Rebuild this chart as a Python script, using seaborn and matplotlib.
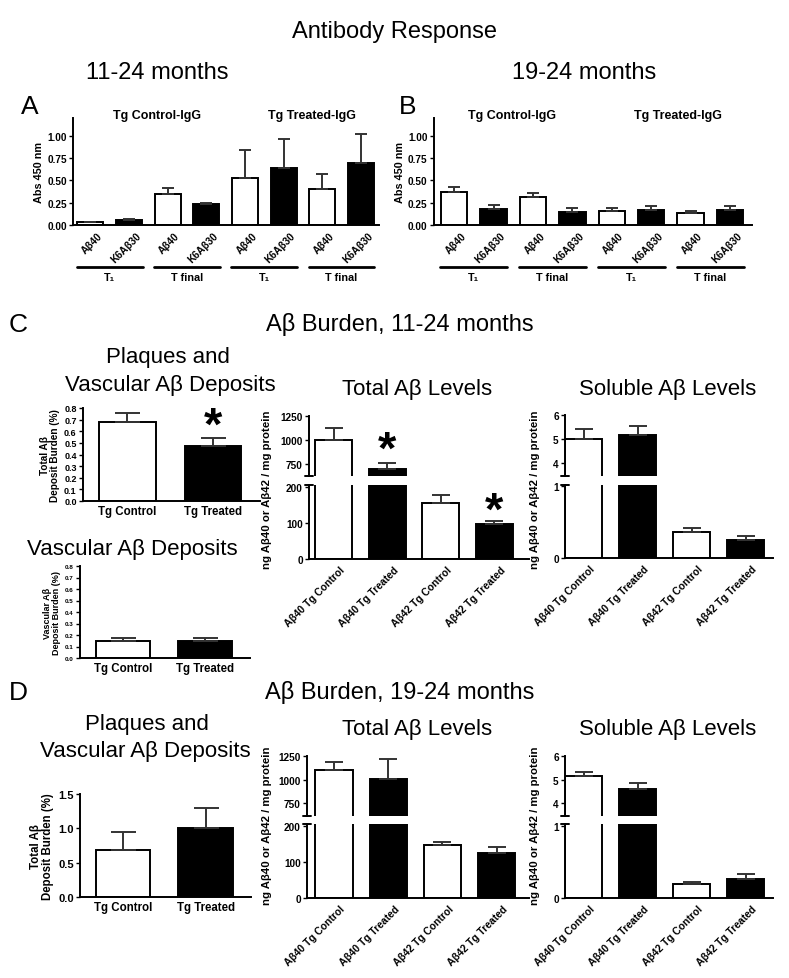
import numpy as np
import pandas as pd
import seaborn as sns
import matplotlib.pyplot as plt
from matplotlib.transforms import ScaledTranslation

# figure size in pixels (dpi 100)
W, H = 789, 979

# === data ===================================================================
ab_labels = ["Aβ40", "K6Aβ30"] * 4
ab_fill = ["open", "filled"] * 4
ab_groups = ["Tg Control-IgG", "Tg Treated-IgG"]
time_groups = ["T₁", "T final", "T₁", "T final"]
ab_11_24 = [0.03, 0.06, 0.35, 0.23, 0.53, 0.64, 0.40, 0.70]
ab_11_24_err = [0.004, 0.01, 0.06, 0.02, 0.31, 0.32, 0.17, 0.32]
ab_19_24 = [0.37, 0.18, 0.31, 0.15, 0.16, 0.17, 0.14, 0.17]
ab_19_24_err = [0.06, 0.04, 0.05, 0.04, 0.03, 0.04, 0.02, 0.04]

burden_labels = ["Tg Control", "Tg Treated"]
burden_fill = ["open", "filled"]
total_burden_c = [0.68, 0.47]
total_burden_c_err = [0.075, 0.07]
vasc_burden_c = [0.15, 0.15]
vasc_burden_c_err = [0.02, 0.02]
total_burden_d = [0.68, 1.00]
total_burden_d_err = [0.26, 0.30]

level_labels = ["Aβ40 Tg Control", "Aβ40 Tg Treated", "Aβ42 Tg Control", "Aβ42 Tg Treated"]
level_fill = ["open", "filled", "open", "filled"]
total_c = [1000, 700, 155, 98]
total_c_err = [125, 65, 23, 6]
soluble_c = [5.0, 5.18, 0.36, 0.25]
soluble_c_err = [0.40, 0.38, 0.05, 0.05]
total_d = [1100, 1010, 147, 126]
total_d_err = [90, 210, 7, 16]
soluble_d = [5.17, 4.60, 0.20, 0.27]
soluble_d_err = [0.15, 0.25, 0.02, 0.06]

PALETTE = {"open": "white", "filled": "black"}
LW = 1.4

sns.set_theme(style="ticks")
plt.rcParams["font.family"] = ["Liberation Sans", "DejaVu Sans"]
plt.rcParams["font.weight"] = "bold"
plt.rcParams["axes.labelweight"] = "bold"
for key in ("text.color", "axes.labelcolor", "xtick.color", "ytick.color", "axes.edgecolor"):
    plt.rcParams[key] = "black"

fig = plt.figure(figsize=(W / 100, H / 100), dpi=100)


def px_axes(left, top, right, bottom):
    return fig.add_axes([left / W, 1 - bottom / H, (right - left) / W, (bottom - top) / H])


def ftext(x, y, s, **kw):
    kw.setdefault("ha", "center")
    kw.setdefault("va", "center")
    return fig.text(x / W, 1 - y / H, s, **kw)


def bars(ax, values, errs, fill, width, capsize):
    df = pd.DataFrame({"pos": range(len(values)), "value": values, "fill": fill})
    sns.barplot(data=df, x="pos", y="value", hue="fill", palette=PALETTE,
                hue_order=["open", "filled"], width=width, errorbar=None,
                edgecolor="black", linewidth=LW, legend=False, ax=ax, zorder=2)
    ax.errorbar(df["pos"], df["value"], yerr=[np.zeros(len(values)), errs],
                fmt="none", ecolor="#333333", elinewidth=LW, capsize=capsize,
                capthick=LW, zorder=3)
    ax.set_xlabel("")
    ax.set_ylabel("")


def style(ax, size):
    sns.despine(ax=ax)
    for s in ("left", "bottom"):
        ax.spines[s].set_linewidth(LW)
        ax.spines[s].set_color("black")
    ax.tick_params(width=1.0, length=3, pad=1.5, labelsize=size, color="black")


def shift_labels(ax, dx, dy=0):
    for lab in ax.get_xticklabels():
        lab.set_transform(lab.get_transform() + ScaledTranslation(dx / 100, dy / 100, fig.dpi_scale_trans))


# === titles ==================================================================
ftext(394, 32, "Antibody Response", fontsize=17, fontweight="normal")
ftext(157, 73, "11-24 months", fontsize=17, fontweight="normal")
ftext(584, 73, "19-24 months", fontsize=17, fontweight="normal")
ftext(30, 107, "A", fontsize=19, fontweight="normal")
ftext(408, 107, "B", fontsize=19, fontweight="normal")


# === A / B antibody response =================================================
def antibody_panel(left, right, values, errs, xlim, grp_x):
    ax = px_axes(left, 119, right, 226)
    bars(ax, values, errs, ab_fill, 0.67, 4.5)
    style(ax, 7.2)
    ax.set_ylim(0, 1.2)
    ax.set_xlim(*xlim)
    ax.set_yticks([0, 0.25, 0.5, 0.75, 1.0])
    ax.set_yticklabels([f"{v:.2f}" for v in [0, 0.25, 0.5, 0.75, 1.0]])
    ax.set_xticks(range(8))
    ax.set_xticklabels(ab_labels, rotation=45, ha="right", rotation_mode="anchor", fontsize=7.3)
    ax.tick_params(axis="x", length=0, pad=4)
    shift_labels(ax, 7)
    ax.set_ylabel("Abs 450 nm", fontsize=7.8, labelpad=2)
    tr = ax.get_xaxis_transform()
    for k, name in enumerate(time_groups):
        ax.plot([2 * k - 0.35, 2 * k + 1.35], [-0.39, -0.39], color="black", lw=2,
                transform=tr, clip_on=False)
        ax.text(2 * k + 0.5, -0.49, name, transform=tr, ha="center", va="center", fontsize=7.8)
    for gx, name in zip(grp_x, ab_groups):
        ax.text(gx, 1.03, name, transform=tr, ha="center", va="center", fontsize=9)
    return ax


antibody_panel(73, 379, ab_11_24, ab_11_24_err, (-0.45, 7.47), [1.72, 5.74])
antibody_panel(434, 752, ab_19_24, ab_19_24_err, (-0.51, 7.56), [1.47, 5.69])


# === C / D deposit burden ====================================================
def burden_panel(box, values, errs, ylim, yticks, fmt, tick_size, label_size, ylabel):
    ax = px_axes(*box)
    bars(ax, values, errs, burden_fill, 0.66, 9)
    style(ax, tick_size)
    ax.set_ylim(*ylim)
    ax.set_xlim(-0.52, 1.55)
    ax.set_yticks(yticks)
    ax.set_yticklabels([fmt.format(v) for v in yticks])
    ax.set_xticks([0, 1])
    ax.set_xticklabels(burden_labels, fontsize=8.3)
    ax.tick_params(axis="x", length=0, pad=3)
    ax.set_ylabel(ylabel, fontsize=label_size, labelpad=3, linespacing=1.0)
    return ax


def broken_panel(left, right, top, brk_top, brk_bot, bottom, values, errs,
                 hi_lim, lo_lim, hi_ticks, lo_ticks, xlim):
    ax_hi = px_axes(left, top, right, brk_top)
    ax_lo = px_axes(left, brk_bot, right, bottom)
    for ax in (ax_hi, ax_lo):
        bars(ax, values, errs, level_fill, 0.69, 6.5)
        style(ax, 7.2)
        ax.set_xlim(*xlim)
    ax_hi.set_ylim(*hi_lim)
    ax_lo.set_ylim(*lo_lim)
    ax_hi.set_yticks(hi_ticks)
    ax_lo.set_yticks(lo_ticks)
    ax_hi.spines["bottom"].set_visible(False)
    ax_hi.tick_params(axis="x", bottom=False, labelbottom=False)
    ax_lo.set_xticks(range(4))
    ax_lo.set_xticklabels(level_labels, rotation=45, ha="right", rotation_mode="anchor", fontsize=7.4)
    ax_lo.tick_params(axis="x", length=0, pad=4)
    shift_labels(ax_lo, 6)
    # break marks on the left spine
    ax_hi.plot([-0.02, 0.02], [0, 0], transform=ax_hi.transAxes, color="black", lw=LW, clip_on=False)
    ax_lo.plot([-0.02, 0.02], [1, 1], transform=ax_lo.transAxes, color="black", lw=LW, clip_on=False)
    return ax_hi, ax_lo


def star(ax, x, y, size=30):
    ax.text(x, y, "*", ha="center", va="center", fontsize=size, fontweight="bold", color="black")


ylab_levels = "ng Aβ40 or Aβ42 / mg protein"

# --- C ---
ftext(18, 325, "C", fontsize=19, fontweight="normal")
ftext(400, 325, "Aβ Burden, 11-24 months", fontsize=17, fontweight="normal")
ftext(168, 358, "Plaques and", fontsize=16, fontweight="normal")
ftext(170, 385, "Vascular Aβ Deposits", fontsize=16, fontweight="normal")
ax = burden_panel((83, 409, 260, 502), total_burden_c, total_burden_c_err, (0, 0.8),
                  np.arange(0, 0.81, 0.1), "{:.1f}", 6.5, 7.2, "Total Aβ\nDeposit Burden (%)")
star(ax, 1, 0.64, 34)

ftext(132, 549, "Vascular Aβ Deposits", fontsize=16, fontweight="normal")
burden_panel((80, 567, 250, 659), vasc_burden_c, vasc_burden_c_err, (0, 0.8),
             np.arange(0, 0.81, 0.1), "{:.1f}", 4.5, 6.5, "Vascular Aβ\nDeposit Burden (%)")

ftext(417, 390, "Total Aβ Levels", fontsize=16, fontweight="normal")
hi, lo = broken_panel(309, 529, 417, 477, 486, 560, total_c, total_c_err,
                      (625, 1250), (0, 205), [750, 1000, 1250], [0, 100, 200], (-0.46, 3.65))
star(hi, 1, 890, 34)
star(lo, 3, 132, 34)
ftext(267, 490, ylab_levels, fontsize=8.2, rotation=90)

ftext(668, 390, "Soluble Aβ Levels", fontsize=16, fontweight="normal")
broken_panel(565, 773, 416, 477, 486, 559, soluble_c, soluble_c_err,
             (3.46, 6), (0, 1.01), [4, 5, 6], [0, 1], (-0.35, 3.51))
ftext(535, 490, ylab_levels, fontsize=8.2, rotation=90)

# --- D ---
ftext(18, 693, "D", fontsize=19, fontweight="normal")
ftext(400, 693, "Aβ Burden, 19-24 months", fontsize=17, fontweight="normal")
ftext(147, 725, "Plaques and", fontsize=16, fontweight="normal")
ftext(145, 752, "Vascular Aβ Deposits", fontsize=16, fontweight="normal")
burden_panel((80, 795, 251, 898), total_burden_d, total_burden_d_err, (0, 1.5),
             [0, 0.5, 1.0, 1.5], "{:.1f}", 8, 8.3, "Total Aβ\nDeposit Burden (%)")

ftext(417, 730, "Total Aβ Levels", fontsize=16, fontweight="normal")
broken_panel(307, 529, 757, 817, 825, 899, total_d, total_d_err,
             (612, 1250), (0, 205), [750, 1000, 1250], [0, 100, 200], (-0.5, 3.6))
ftext(267, 826, ylab_levels, fontsize=8.2, rotation=90)

ftext(668, 730, "Soluble Aβ Levels", fontsize=16, fontweight="normal")
broken_panel(565, 773, 757, 817, 825, 899, soluble_d, soluble_d_err,
             (3.45, 6), (0, 1.03), [4, 5, 6], [0, 1], (-0.35, 3.51))
ftext(535, 826, ylab_levels, fontsize=8.2, rotation=90)

fig.savefig("out.png", dpi=100)
